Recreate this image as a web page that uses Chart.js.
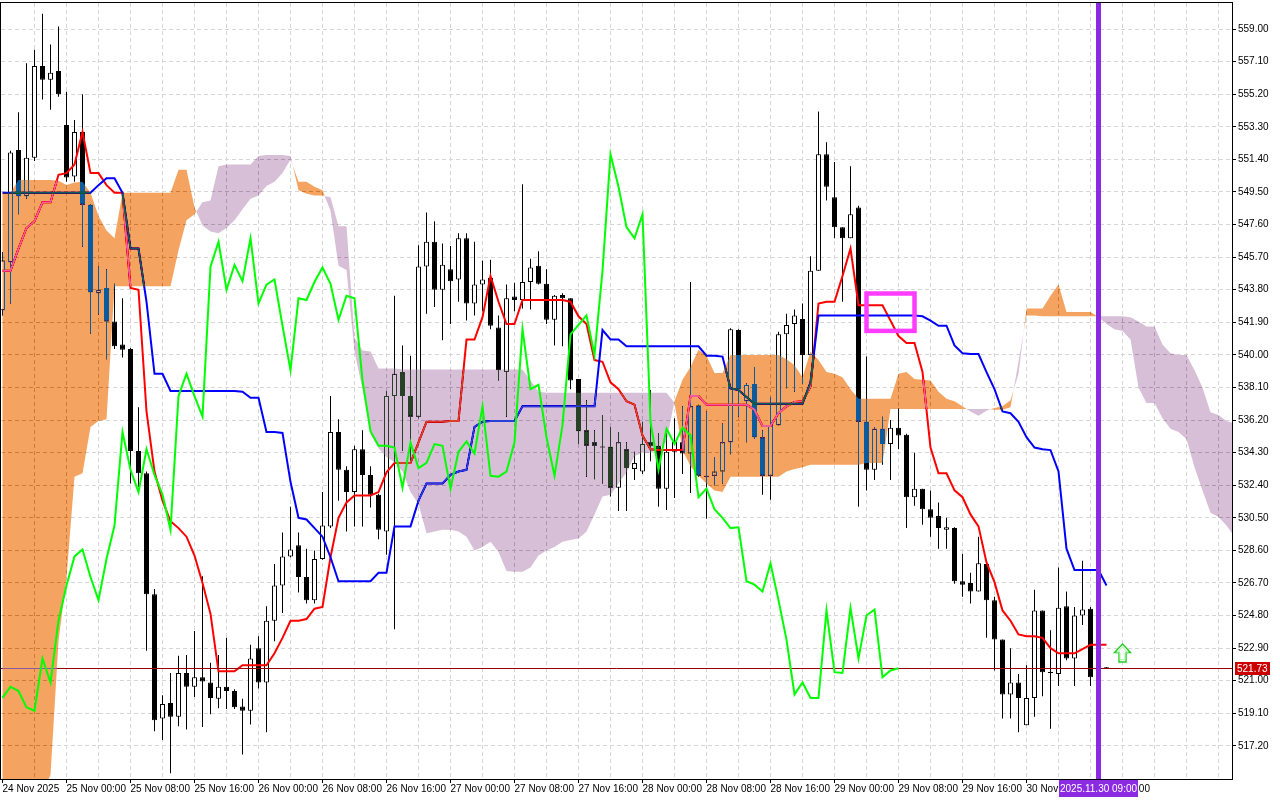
<!DOCTYPE html>
<html>
<head>
<meta charset="utf-8">
<title>H1 Ichimoku</title>
<script src="https://cdn.jsdelivr.net/npm/chart.js"></script>
<style>
  html, body { margin: 0; padding: 0; background: #fff; }
  canvas { display: block; }
</style>
</head>
<body>
<canvas id="chart" width="1280" height="800"></canvas>
<script>
// hourly bars, index 0 = 24 Nov 16:00, index 138 = 30 Nov 10:00
const opens = [
  542.6, 545.4, 551.95, 549.25, 551.5, 556.85, 556.05, 556.55, 553.4, 550.4,
  553.0, 548.75, 543.6, 543.9, 541.95, 540.6, 540.35, 534.4, 533.1, 526.05,
  518.8, 519.7, 518.9, 521.45, 520.65, 521.2, 520.9, 519.95, 520.65, 520.4,
  519.5, 519.25, 522.9, 520.9, 524.5, 526.55, 528.25, 528.9, 527.05, 525.7,
  528.1, 530.0, 535.5, 533.3, 532.0, 534.5, 533.0, 531.85, 529.7, 537.6,
  539.0, 537.6, 536.4, 545.15, 546.6, 543.8, 545.0, 544.4, 546.8, 543.0,
  544.1, 544.5, 541.6, 539.0, 543.4, 543.2, 544.25, 545.2, 544.15, 542.05,
  543.5, 543.3, 538.6, 535.6, 534.9, 534.65, 534.65, 532.25, 534.5, 533.35,
  533.2, 534.9, 534.7, 532.2, 534.35, 534.9, 534.25, 537.05, 532.95, 532.95,
  533.2, 534.9, 541.45, 537.3, 538.3, 535.2, 532.95, 535.9, 541.2, 541.8,
  542.1, 540.0, 544.9, 551.7, 549.2, 547.45, 546.8, 548.6, 536.1, 533.3,
  535.7, 534.8, 535.75, 535.35, 531.7, 532.2, 531.0, 530.6, 529.8, 529.9,
  526.8, 526.7, 526.2, 527.8, 525.7, 523.4, 520.2, 520.9, 518.4, 520.0,
  525.1, 521.5, 521.4, 525.35, 522.3, 524.8, 525.2, 521.2, 521.73,
]
const highs = [
  546.0, 551.9, 554.15, 557.0, 557.8, 559.9, 558.1, 559.15, 555.35, 553.7,
  555.2, 548.8, 545.15, 545.0, 544.15, 543.3, 540.4, 536.95, 533.2, 526.35,
  520.15, 521.45, 522.45, 522.5, 523.9, 527.1, 522.05, 522.5, 523.5, 520.5,
  519.95, 523.1, 523.6, 525.35, 527.8, 529.65, 531.15, 529.65, 528.7, 528.6,
  532.0, 537.6, 536.25, 533.5, 534.7, 535.6, 533.5, 531.9, 537.9, 543.45,
  540.55, 539.95, 546.4, 548.3, 547.8, 546.5, 546.35, 547.1, 547.1, 546.6,
  545.5, 545.55, 542.3, 544.1, 544.2, 549.95, 545.6, 546.05, 545.0, 543.5,
  543.6, 543.3, 538.6, 537.35, 535.6, 536.5, 535.8, 535.5, 534.9, 534.35,
  536.1, 537.95, 535.45, 535.45, 536.3, 537.0, 544.25, 537.1, 536.7, 534.05,
  536.0, 541.55, 541.5, 538.35, 539.3, 535.6, 537.55, 541.35, 542.4, 542.65,
  543.0, 545.75, 554.2, 552.4, 551.25, 547.45, 551.0, 548.7, 539.9, 535.8,
  536.4, 536.2, 536.9, 535.4, 534.3, 532.2, 532.1, 531.4, 530.5, 529.95,
  528.4, 527.3, 529.4, 527.9, 525.9, 523.4, 522.9, 521.4, 521.9, 526.3,
  525.1, 523.95, 527.6, 526.2, 525.3, 528.0, 525.3, 522.3, 521.8,
]
const lows = [
  542.3, 543.0, 548.2, 549.1, 551.3, 554.9, 554.3, 555.05, 550.1, 550.1,
  546.3, 541.25, 542.35, 539.75, 540.35, 539.85, 532.5, 532.3, 522.75, 518.05,
  517.55, 515.6, 518.35, 518.15, 520.05, 518.3, 519.05, 519.4, 519.35, 519.35,
  516.7, 518.45, 520.55, 518.0, 523.3, 524.95, 528.2, 526.15, 525.5, 525.5,
  528.05, 529.9, 531.5, 529.7, 530.0, 530.0, 531.1, 529.25, 528.35, 524.0,
  534.4, 533.65, 536.3, 542.4, 542.8, 540.85, 541.8, 543.1, 542.0, 542.3,
  542.55, 541.5, 538.5, 536.4, 542.55, 542.7, 542.65, 544.1, 541.8, 540.55,
  540.5, 538.0, 534.8, 532.9, 532.75, 532.5, 531.75, 530.9, 530.9, 532.7,
  533.05, 533.8, 531.15, 530.95, 531.65, 533.05, 531.95, 532.9, 530.45, 532.4,
  532.5, 534.2, 536.4, 534.9, 535.1, 531.85, 531.55, 535.9, 538.05, 537.85,
  538.3, 540.0, 544.9, 549.0, 546.8, 543.1, 546.8, 531.15, 532.1, 532.7,
  533.6, 532.7, 534.5, 529.9, 531.2, 530.1, 529.4, 528.7, 528.7, 526.65,
  525.9, 525.5, 526.2, 523.5, 521.6, 518.8, 518.8, 518.0, 518.4, 518.9,
  520.1, 518.2, 520.7, 522.2, 520.7, 524.25, 520.7, 520.9, 521.7,
]
const closes = [
  545.5, 551.8, 549.25, 551.5, 556.85, 556.05, 556.45, 555.2, 550.35, 553.0,
  548.75, 543.65, 543.8, 541.95, 540.5, 540.3, 534.4, 533.1, 526.05, 518.7,
  519.65, 518.9, 521.45, 520.65, 521.2, 520.95, 520.0, 520.65, 520.4, 519.45,
  519.25, 522.3, 520.9, 524.5, 526.55, 528.25, 528.65, 527.05, 525.7, 528.1,
  530.05, 535.5, 533.3, 532.0, 534.5, 533.0, 531.85, 529.8, 537.6, 538.9,
  537.6, 536.4, 545.15, 546.6, 543.8, 545.25, 544.3, 546.8, 543.0, 544.1,
  544.4, 541.7, 539.1, 543.3, 543.2, 544.25, 545.1, 544.15, 542.05, 543.45,
  543.3, 538.5, 535.55, 534.7, 534.7, 534.6, 532.25, 534.9, 533.4, 533.7,
  534.8, 534.7, 532.2, 534.35, 534.95, 534.25, 537.0, 532.95, 532.9, 533.2,
  534.9, 541.5, 538.0, 538.25, 535.2, 532.95, 535.9, 541.2, 541.75, 542.3,
  540.0, 544.9, 551.7, 549.8, 547.45, 546.8, 548.2, 536.1, 533.3, 535.7,
  534.8, 535.75, 535.3, 531.7, 532.2, 531.0, 530.5, 529.9, 529.95, 526.8,
  526.6, 526.2, 527.85, 525.7, 523.4, 520.2, 520.9, 520.0, 520.0, 525.1,
  521.5, 521.45, 525.25, 522.3, 524.8, 525.15, 521.2, 521.6, 521.73,
]

// Ichimoku lines
const tenkan = [
  544.9, 544.9, 546.2, 547.4, 547.8, 548.9, 548.9, 550.5, 550.6, 551.1,
  553.0, 550.6, 550.6, 549.9, 549.45, 549.45, 543.9, 543.8, 536.7, 533.2,
  531.5, 530.3, 529.9, 529.4, 528.3, 526.7, 524.9, 521.55, 521.55, 521.55,
  521.9, 521.9, 521.9, 521.9, 522.6, 523.5, 524.5, 524.5, 524.6, 525.2,
  525.3, 528.2, 530.5, 531.4, 531.8, 531.8, 531.8, 532.0, 533.15, 533.7,
  533.7, 533.7, 534.9, 536.1, 536.1, 536.1, 536.15, 536.15, 540.9, 540.9,
  542.2, 544.6, 543.1, 541.8, 541.8, 543.2, 543.2, 543.2, 543.2, 543.2,
  543.2, 543.1, 542.25, 541.8, 539.7, 539.6, 538.4, 538.0, 537.3, 537.1,
  535.3, 534.5, 534.45, 534.45, 534.45, 534.45, 537.6, 537.6, 537.1, 537.1,
  537.1, 537.1, 537.1, 537.1, 536.8, 535.85, 535.85, 536.6, 537.0, 537.25,
  537.3, 538.15, 543.0, 543.1, 543.1, 544.6, 546.2, 542.9, 542.9, 542.9,
  542.9, 542.0, 541.1, 540.7, 540.7, 539.0, 534.6, 533.1, 533.1, 532.1,
  531.7, 530.7, 530.0, 527.9, 526.75, 525.1, 524.5, 523.7, 523.6, 523.6,
  523.5, 522.9, 522.6, 522.6, 522.6, 522.85, 523.1, 523.1, 523.1,
]
const kijun = [
  549.45, 549.45, 549.45, 549.45, 549.45, 549.45, 549.45, 549.45, 549.45, 549.45,
  549.45, 549.45, 549.9, 550.3, 550.3, 549.45, 546.2, 546.2, 543.1, 538.9,
  538.9, 537.9, 537.9, 537.9, 537.9, 537.9, 537.9, 537.9, 537.9, 537.9,
  537.85, 537.5, 537.5, 535.5, 535.5, 535.45, 532.6, 530.5, 530.4, 529.9,
  529.4, 528.2, 526.8, 526.8, 526.8, 526.8, 526.8, 527.3, 527.3, 530.0,
  530.0, 530.0, 531.5, 532.5, 532.5, 532.5, 533.0, 533.2, 533.3, 535.8,
  536.1, 536.15, 536.15, 536.15, 536.15, 537.0, 537.0, 537.0, 537.0, 537.0,
  537.0, 537.0, 537.0, 537.0, 537.0, 541.45, 540.9, 540.9, 540.5, 540.5,
  540.5, 540.5, 540.5, 540.5, 540.5, 540.5, 540.5, 540.5, 539.95, 539.95,
  539.9, 538.05, 537.95, 537.55, 537.15, 537.15, 537.15, 537.15, 537.15, 537.15,
  537.15, 538.4, 542.3, 542.3, 542.3, 542.3, 542.3, 542.3, 542.3, 542.3,
  542.3, 542.3, 542.3, 542.3, 542.3, 542.25, 542.0, 541.7, 541.7, 540.55,
  540.1, 540.05, 540.05, 539.0, 538.0, 536.7, 536.6, 536.1, 535.2, 534.6,
  534.5, 534.45, 533.2, 528.7, 527.45, 527.45, 527.45, 527.45, 526.55,
]
// cloud edges run 26 bars past the last candle
const spanA = [
  549.45, 549.45, 550.2, 550.2, 550.2, 550.2, 550.2, 550.15, 549.9, 550.05,
  550.1, 549.45, 548.1, 547.25, 546.8, 549.45, 549.45, 549.45, 549.45, 549.45,
  549.45, 549.45, 550.8, 550.8, 548.6, 547.55, 547.2, 547.1, 547.4, 547.85,
  548.5, 549.1, 549.3, 549.85, 550.1, 550.6, 551.4, 550.1, 550.1, 549.8,
  549.6, 548.4, 545.2, 544.95, 540.2, 538.0, 535.4, 534.55, 534.05, 533.75,
  533.2, 532.0, 531.3, 529.6, 529.7, 529.8, 529.8, 529.7, 529.4, 528.6,
  528.8, 529.1, 528.5, 527.4, 527.35, 527.35, 527.6, 528.3, 528.6, 528.8,
  529.1, 529.2, 529.3, 529.7, 530.7, 531.75, 531.85, 532.5, 533.15, 534.1,
  534.3, 534.3, 534.5, 534.95, 537.3, 538.55, 539.3, 540.3, 539.95, 538.95,
  538.95, 540.0, 540.0, 540.0, 540.0, 540.0, 540.0, 540.0, 539.75, 539.4,
  538.7, 540.2, 539.7, 539.0, 538.9, 538.7, 538.0, 537.45, 537.45, 537.45,
  537.45, 537.45, 538.9, 539.0, 538.6, 538.55, 538.5, 537.85, 537.45, 537.3,
  537.0, 536.7, 536.45, 536.75, 536.9, 537.0, 537.35, 538.9, 542.7, 542.7,
  542.7, 543.45, 544.1, 542.5, 542.5, 542.5, 542.5, 542.2, 541.8, 541.5,
  541.4, 540.9, 538.1, 537.2, 537.2, 536.3, 535.7, 535.5, 535.1, 533.45,
  532.1, 530.8, 530.55, 530.05, 529.4,
]
const spanB = [
  514.5, 514.5, 514.5, 514.5, 514.5, 514.5, 515.5, 523.3, 527.0, 532.9,
  533.1, 535.8, 536.15, 536.25, 544.0, 544.0, 544.0, 544.0, 544.0, 544.0,
  544.0, 544.0, 546.1, 547.85, 548.2, 548.9, 549.0, 551.0, 551.1, 551.1,
  551.1, 551.1, 551.6, 551.65, 551.65, 551.65, 551.6, 549.6, 549.4, 549.3,
  549.3, 549.2, 547.5, 547.5, 541.0, 540.25, 540.2, 539.2, 539.2, 539.2,
  539.15, 539.15, 539.15, 539.15, 539.15, 539.15, 539.15, 539.15, 539.15, 539.15,
  539.15, 539.15, 539.15, 539.15, 539.15, 539.15, 538.5, 537.85, 537.8, 537.8,
  537.8, 537.8, 537.8, 537.8, 537.8, 537.8, 537.8, 537.8, 537.8, 537.8,
  537.8, 537.8, 537.8, 537.8, 537.2, 534.45, 533.5, 532.95, 532.5, 532.1,
  532.0, 532.9, 532.9, 532.9, 532.9, 532.9, 532.9, 532.9, 533.2, 533.35,
  533.45, 533.6, 533.6, 533.6, 533.6, 533.6, 533.6, 533.6, 533.7, 533.7,
  533.7, 536.85, 536.85, 536.85, 536.85, 536.85, 536.85, 536.85, 536.85, 536.85,
  536.85, 536.85, 536.85, 536.85, 536.8, 536.8, 536.95, 539.6, 542.3, 542.3,
  542.25, 542.25, 542.25, 542.25, 542.25, 542.25, 542.25, 542.25, 542.25, 542.25,
  542.25, 542.2, 541.95, 541.65, 541.65, 540.6, 540.1, 540.0, 540.0, 539.1,
  538.1, 536.65, 536.5, 536.15, 536.0,
]

const priceTicks = [
  517.2, 519.1, 521.0, 522.9, 524.8, 526.7, 528.6, 530.5, 532.4, 534.3, 536.2, 538.1,
  540.0, 541.9, 543.8, 545.7, 547.6, 549.5, 551.4, 553.3, 555.2, 557.1, 559.0,
]
// one label every 8 bars, starting at bar 0
const timeLabels = [
  '24 Nov 2025', '25 Nov 00:00', '25 Nov 08:00', '25 Nov 16:00', '26 Nov 00:00', '26 Nov 08:00',
  '26 Nov 16:00', '27 Nov 00:00', '27 Nov 08:00', '27 Nov 16:00', '28 Nov 00:00', '28 Nov 08:00',
  '28 Nov 16:00', '29 Nov 00:00', '29 Nov 08:00', '29 Nov 16:00', '30 Nov 00:00', '30 Nov 08:00',
]
const bidPrice = 521.73
const markerBar = 137
const markerLabel = '2025.11.30 09:00'
const boxBars = [108, 114]
const boxPrices = [543.58, 541.4]
const arrowBar = 140
const arrowPrice = 523.14

const X_MIN = -0.1875
const X_MAX = X_MIN + 1231 / 8
const GRID = 'rgb(214, 214, 214)'
const FONT = "'Liberation Sans', Arial, sans-serif"

// chikou span is the close plotted 26 bars back
const chikou = closes.slice(26)
const gridBars = Array.from({ length: 39 }, (_, i) => i * 4)
const points = (values) => values.map((v, i) => ({ x: i, y: v }))
const labelFor = (value) => {
  const k = Math.round(value)
  return k % 8 === 0 ? timeLabels[k / 8] || '' : ''
}

// MT5 paints the kumo by inverting its colour over what is underneath
const shadeCloud = (chart) => {
  const { ctx, chartArea: area, scales: { x, y } } = chart
  const bull = new Path2D()
  const bear = new Path2D()
  const poly = (path, pts) => {
    path.moveTo(pts[0][0], pts[0][1])
    pts.slice(1).forEach((p) => path.lineTo(p[0], p[1]))
    path.closePath()
  }
  for (let i = 0; i < spanA.length - 1; i++) {
    const x0 = x.getPixelForValue(i)
    const x1 = x.getPixelForValue(i + 1)
    const a0 = y.getPixelForValue(spanA[i])
    const a1 = y.getPixelForValue(spanA[i + 1])
    const b0 = y.getPixelForValue(spanB[i])
    const b1 = y.getPixelForValue(spanB[i + 1])
    const d0 = spanA[i] - spanB[i]
    const d1 = spanA[i + 1] - spanB[i + 1]
    if (d0 >= 0 && d1 >= 0) {
      poly(bull, [[x0, a0], [x1, a1], [x1, b1], [x0, b0]])
    } else if (d0 <= 0 && d1 <= 0) {
      poly(bear, [[x0, a0], [x1, a1], [x1, b1], [x0, b0]])
    } else {
      const t = d0 / (d0 - d1)
      const xc = x0 + (x1 - x0) * t
      const yc = a0 + (a1 - a0) * t
      poly(d0 > 0 ? bull : bear, [[x0, a0], [xc, yc], [x0, b0]])
      poly(d1 > 0 ? bull : bear, [[xc, yc], [x1, a1], [x1, b1]])
    }
  }
  ctx.save()
  ctx.beginPath()
  ctx.rect(area.left, area.top, area.right - area.left, area.bottom - area.top)
  ctx.clip()
  ctx.globalCompositeOperation = 'difference'
  ctx.fillStyle = 'rgb(11, 91, 159)'
  ctx.fill(bull)
  ctx.fillStyle = 'rgb(39, 64, 39)'
  ctx.fill(bear)
  ctx.restore()
}

const drawBidLine = (chart) => {
  const { ctx, chartArea: area, scales: { y } } = chart
  const by = Math.round(y.getPixelForValue(bidPrice)) + 0.5
  ctx.save()
  ctx.strokeStyle = 'rgb(150, 0, 0)'
  ctx.lineWidth = 1
  ctx.beginPath()
  ctx.moveTo(area.left, by)
  ctx.lineTo(area.right, by)
  ctx.stroke()
  ctx.restore()
}

const drawArrow = (ctx, cx, ty) => {
  const shape = [[0, 0], [8, 8.5], [3.5, 8.5], [3.5, 18], [-3.5, 18], [-3.5, 8.5], [-8, 8.5]]
  const trace = (s) => {
    ctx.beginPath()
    shape.forEach(([dx, dy], i) => {
      const px = cx + dx * s
      const py = ty + 10 + (dy - 10) * s
      if (i === 0) ctx.moveTo(px, py)
      else ctx.lineTo(px, py)
    })
    ctx.closePath()
  }
  trace(1)
  ctx.fillStyle = '#ffffff'
  ctx.fill()
  ctx.strokeStyle = '#22cc22'
  ctx.lineWidth = 1.4
  ctx.stroke()
  trace(0.72)
  ctx.strokeStyle = '#9ef29e'
  ctx.lineWidth = 1
  ctx.stroke()
}

const terminalLook = {
  id: 'terminalLook',
  beforeDraw(chart) {
    const { ctx, width, height } = chart
    ctx.save()
    ctx.fillStyle = '#ffffff'
    ctx.fillRect(0, 0, width, height)
    ctx.restore()
  },
  afterDatasetDraw(chart, args) {
    if (chart.data.datasets[args.index].label !== 'Kijun-sen') {
      return
    }
    drawBidLine(chart)
    shadeCloud(chart)
  },
  afterDraw(chart) {
    const { ctx, chartArea: area, scales: { x, y } } = chart
    ctx.save()

    // highlighted rectangle
    const rx0 = x.getPixelForValue(boxBars[0])
    const rx1 = x.getPixelForValue(boxBars[1])
    const ry0 = y.getPixelForValue(boxPrices[0])
    const ry1 = y.getPixelForValue(boxPrices[1])
    ctx.strokeStyle = '#ff3cff'
    ctx.lineWidth = 4.5
    ctx.strokeRect(rx0, ry0, rx1 - rx0, ry1 - ry0)

    // vertical time marker
    const vx = x.getPixelForValue(markerBar)
    ctx.strokeStyle = 'rgb(138, 43, 226)'
    ctx.lineWidth = 5
    ctx.beginPath()
    ctx.moveTo(vx, area.top)
    ctx.lineTo(vx, area.bottom)
    ctx.stroke()

    drawArrow(ctx, x.getPixelForValue(arrowBar), y.getPixelForValue(arrowPrice))

    // frame
    ctx.strokeStyle = '#000000'
    ctx.lineWidth = 1
    ctx.strokeRect(0.5, area.top - 0.5, area.right, area.bottom - area.top + 1)

    // bid price tag
    ctx.font = `10px ${FONT}`
    ctx.textBaseline = 'middle'
    const by = Math.round(y.getPixelForValue(bidPrice))
    ctx.fillStyle = 'rgb(204, 0, 0)'
    ctx.fillRect(area.right + 3, by - 6, 35, 13)
    ctx.fillStyle = '#ffffff'
    ctx.textAlign = 'left'
    ctx.fillText(bidPrice.toFixed(2), area.right + 5, by + 1)

    // time tag under the marker
    const tw = ctx.measureText(markerLabel).width + 2
    ctx.fillStyle = 'rgb(138, 43, 226)'
    ctx.fillRect(vx - tw / 2, area.bottom + 1, tw, 17)
    ctx.fillStyle = '#ffffff'
    ctx.textAlign = 'center'
    ctx.fillText(markerLabel, vx, area.bottom + 10)
    ctx.restore()
  },
}

Chart.defaults.font.family = FONT
Chart.defaults.font.size = 10
Chart.defaults.color = '#000000'

const candleBar = {
  type: 'bar',
  grouped: false,
  borderSkipped: false,
  inflateAmount: 0,
}

new Chart(document.getElementById('chart'), {
  type: 'bar',
  data: {
    datasets: [
      {
        ...candleBar,
        label: 'Wicks',
        data: opens.map((_, i) => ({ x: i, y: [lows[i], highs[i]] })),
        backgroundColor: '#000000',
        borderWidth: 0,
        barThickness: 1,
        maxBarThickness: 1,
        order: 6,
      },
      {
        ...candleBar,
        label: 'Bodies',
        data: opens.map((o, i) => ({ x: i, y: [o, closes[i]] })),
        backgroundColor: opens.map((o, i) => (closes[i] > o ? '#ffffff' : '#000000')),
        borderColor: '#000000',
        borderWidth: 1,
        barThickness: 5,
        maxBarThickness: 5,
        minBarLength: 1,
        order: 5,
      },
      {
        type: 'line',
        label: 'Tenkan-sen',
        data: points(tenkan),
        borderColor: '#ff0000',
        borderWidth: 2,
        pointRadius: 0,
        tension: 0,
        order: 4,
      },
      {
        type: 'line',
        label: 'Kijun-sen',
        data: points(kijun),
        borderColor: '#0000ff',
        borderWidth: 2,
        pointRadius: 0,
        tension: 0,
        order: 3,
      },
      {
        type: 'line',
        label: 'Chikou Span',
        data: points(chikou),
        borderColor: '#00ff00',
        borderWidth: 2,
        pointRadius: 0,
        tension: 0,
        order: 1,
      },
    ],
  },
  options: {
    responsive: false,
    animation: false,
    devicePixelRatio: 1,
    events: [],
    layout: { padding: { top: 3, left: 1, right: 0, bottom: 0 } },
    plugins: {
      legend: { display: false },
      tooltip: { enabled: false },
    },
    scales: {
      x: {
        type: 'linear',
        min: X_MIN,
        max: X_MAX,
        bounds: 'data',
        offset: false,
        grid: {
          offset: false,
          color: (ctx) => (ctx.index === 0 ? 'rgba(0,0,0,0)' : GRID),
          tickColor: (ctx) => (ctx.tick && labelFor(ctx.tick.value) ? '#000000' : 'rgba(0,0,0,0)'),
          tickLength: 4,
        },
        border: { display: false, dash: [4, 3] },
        ticks: {
          autoSkip: false,
          maxRotation: 0,
          minRotation: 0,
          align: 'start',
          padding: 0,
          callback: (value) => labelFor(value),
        },
        afterBuildTicks: (scale) => {
          scale.ticks = gridBars.map((v) => ({ value: v }))
        },
        afterFit: (scale) => {
          scale.height = 21
          scale.paddingLeft = 0
          scale.paddingRight = 0
        },
      },
      y: {
        position: 'right',
        min: 515.27,
        max: 560.52,
        bounds: 'data',
        grid: { color: GRID, tickColor: '#000000', tickLength: 4 },
        border: { display: false, dash: [4, 3] },
        ticks: {
          padding: 2,
          callback: (value) => Number(value).toFixed(2),
        },
        afterBuildTicks: (scale) => {
          scale.ticks = priceTicks.map((v) => ({ value: v }))
        },
        afterFit: (scale) => {
          scale.width = 48
          scale.paddingTop = 0
          scale.paddingBottom = 0
        },
      },
    },
  },
  plugins: [terminalLook],
})
</script>
</body>
</html>
